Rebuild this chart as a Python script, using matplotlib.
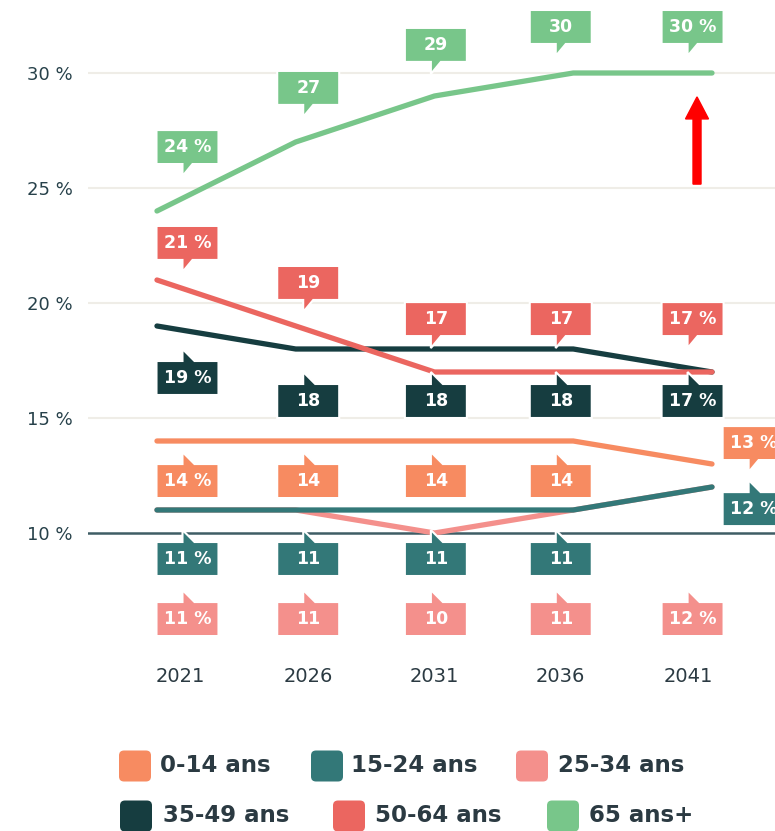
import numpy as np
import matplotlib
matplotlib.use('Agg')
from matplotlib import pyplot as plt
from matplotlib.patches import Polygon, FancyBboxPatch, FancyArrow


# data
years = ['2021', '2026', '2031', '2036', '2041']
groups = ['0-14 ans', '15-24 ans', '25-34 ans', '35-49 ans', '50-64 ans', '65 ans+']
colors = ['#f78b61', '#337878', '#f4908c', '#163d40', '#eb6660', '#78c68a']

v_0_14 = [14, 14, 14, 14, 13]
v_15_24 = [11, 11, 11, 11, 12]
v_25_34 = [11, 11, 10, 11, 12]
v_35_49 = [19, 18, 18, 18, 17]
v_50_64 = [21, 19, 17, 17, 17]
v_65 = [24, 27, 29, 30, 30]
series = [v_0_14, v_15_24, v_25_34, v_35_49, v_50_64, v_65]

yticks = [10, 15, 20, 25, 30]

# layout of the value bubbles: x slot, tip y, side (1 = bubble above tip)
slot_x = [0.22, 1.09, 2.01, 2.91, 3.86]
right_x = 4.30
year_x = [0.17, 1.09, 2.00, 2.91, 3.83]
bubble_layout = [
    [(s, 13.52, -1) for s in slot_x[:4]] + [(right_x, 12.65, 1)],
    [(s, 10.13, -1) for s in slot_x[:4]] + [(right_x, 12.30, -1)],
    [(s, 7.52, -1) for s in slot_x],
    [(slot_x[0], 18.0, -1)] + [(s, 17.0, -1) for s in slot_x[1:]],
    [(slot_x[0], 21.35, 1), (slot_x[1], 19.61, 1)] + [(s, 18.04, 1) for s in slot_x[2:]],
    [(s, t, 1) for s, t in zip(slot_x, [25.52, 28.09, 29.96, 30.74, 30.74])],
]
draw_order = [2, 1, 0, 3, 4, 5]

text_col = '#2b3a42'
W, H = 775, 831

fig = plt.figure(figsize=(W / 100, H / 100), dpi=100)
ax = fig.add_axes([88 / W, 131 / H, 687 / W, 700 / H])
xmin, xmax = -0.497, 4.454
ymin, ymax = 2.739, 33.174
ax.set_xlim(xmin, xmax)
ax.set_ylim(ymin, ymax)
sx = 687 / (xmax - xmin)   # pixels per x unit
sy = 700 / (ymax - ymin)   # pixels per y unit

for s in ax.spines.values():
    s.set_visible(False)
ax.set_xticks([])
ax.set_yticks(yticks)
ax.set_yticklabels(['%d %%' % t for t in yticks])
ax.tick_params(axis='y', length=0, pad=11, labelsize=13, labelcolor='#27414a')
for t in yticks[1:]:
    ax.axhline(t, color='#efede7', lw=1.5, zorder=1)
ax.axhline(yticks[0], color='#3f5d65', lw=1.8, zorder=1)

x = np.arange(len(years))
for i in draw_order:
    ax.plot(x, series[i], color=colors[i], lw=3.8, solid_capstyle='round',
            solid_joinstyle='miter', zorder=3)


def bubble(xc, tip, side, text, color):
    w, h, ph = 62 / sx, 34 / sy, 12 / sy
    tx = xc - 5 / sx
    L, R = xc - w / 2, xc + w / 2
    if side > 0:
        tw = 10 / sx
        B = tip + ph
        T = B + h
        verts = [(L, B), (tx, B), (tx, tip), (tx + tw, B), (R, B), (R, T), (L, T)]
    else:
        tw = 12 / sx
        T = tip - ph
        B = T - h
        verts = [(L, T), (tx, T), (tx, tip), (tx + tw, T), (R, T), (R, B), (L, B)]
    ax.add_patch(Polygon(verts, closed=True, fc=color, ec='white', lw=1.5,
                         zorder=5, clip_on=False))
    ax.text(xc, (B + T) / 2, text, color='white', fontsize=12.5, fontweight='bold',
            ha='center', va='center', zorder=6)


for i, vals in enumerate(series):
    for j, (bx, tip, side) in enumerate(bubble_layout[i]):
        lab = '%d %%' % vals[j] if j in (0, len(vals) - 1) else '%d' % vals[j]
        bubble(bx, tip, side, lab, colors[i])

for xi, yr in zip(year_x, years):
    ax.text(xi, 30 - (676 - 73) / sy, yr, ha='center', va='center',
            fontsize=14, color=text_col)

# red arrow pointing at the 2041 value
ax.add_patch(FancyArrow(3.892, 25.17, 0, 3.79, width=8 / sx, head_width=23 / sx,
                        head_length=22 / sy, length_includes_head=True,
                        color='#ff0000', zorder=7))

# legend
legend_pos = [(119, 160, 766), (311, 351, 766), (516, 558, 766),
              (120, 163, 816), (333, 375, 816), (547, 589, 816)]
tr = fig.dpi_scale_trans
for (qx, tx, yc), g, c in zip(legend_pos, groups, colors):
    fig.patches.append(FancyBboxPatch((qx / 100, (H - yc - 15.5) / 100), 0.32, 0.31,
                                      boxstyle='round,pad=0,rounding_size=0.05',
                                      fc=c, ec='none', transform=tr, figure=fig))
    fig.text(tx / 100, (H - yc) / 100, g, transform=tr, fontsize=16.5,
             fontweight='bold', color=text_col, ha='left', va='center')

fig.savefig('out.png', dpi=100)
